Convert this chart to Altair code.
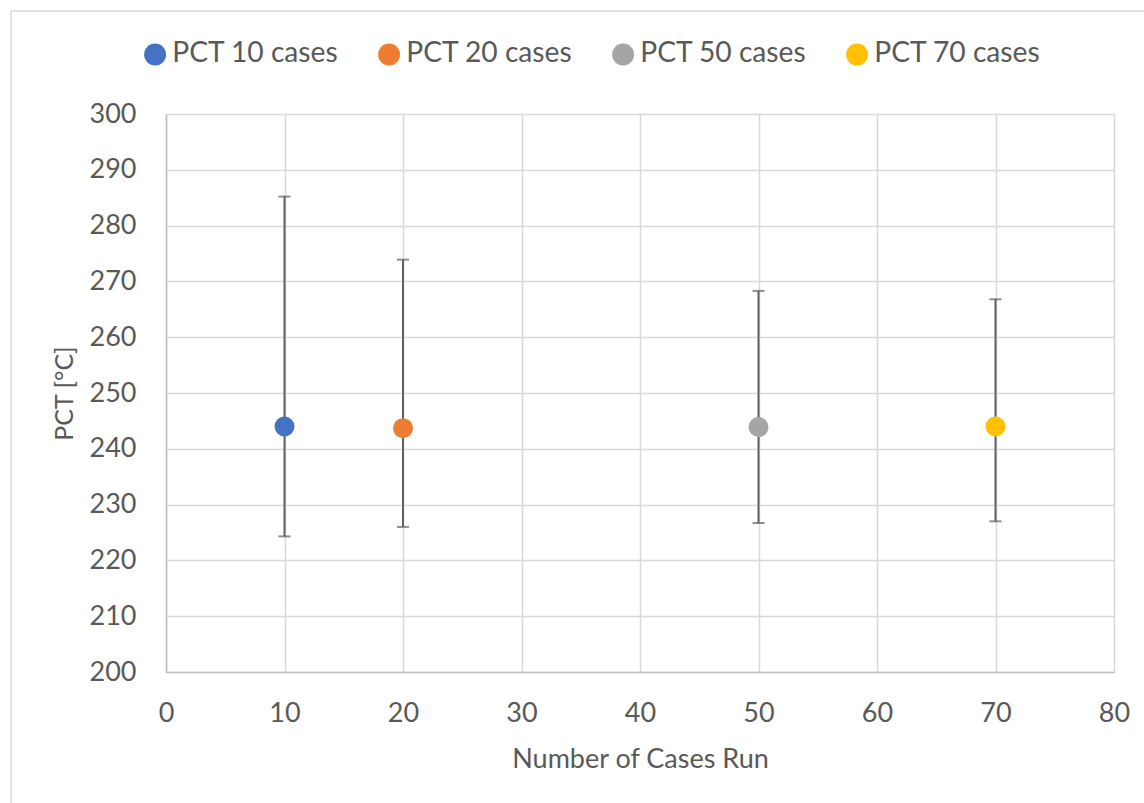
import altair as alt
import pandas as pd

series = ["PCT 10 cases", "PCT 20 cases", "PCT 50 cases", "PCT 70 cases"]
cases = [10, 20, 50, 70]
pct_mean = [244.0, 243.7, 243.9, 244.0]
pct_high = [285.2, 273.9, 268.3, 266.8]
pct_low = [224.3, 226.0, 226.7, 227.0]
colors = ["#4472C4", "#ED7D31", "#A5A5A5", "#FFC000"]

x_ticks = [0, 10, 20, 30, 40, 50, 60, 70, 80]
y_ticks = [200, 210, 220, 230, 240, 250, 260, 270, 280, 290, 300]

df = pd.DataFrame({"series": series, "cases": cases, "mean": pct_mean,
                   "high": pct_high, "low": pct_low})

FONT = "Lato"
TXT = "#595959"

x_enc = alt.X("cases:Q", scale=alt.Scale(domain=[0, 80], nice=False),
              axis=alt.Axis(values=x_ticks, title="Number of Cases Run"))
y_enc_kw = dict(scale=alt.Scale(domain=[200, 300], nice=False, zero=False))

base = alt.Chart(df)

rules = base.mark_rule(color="#606060", strokeWidth=2).encode(
    x=x_enc,
    y=alt.Y("low:Q", axis=alt.Axis(values=y_ticks, title="PCT [°C]"), **y_enc_kw),
    y2="high:Q",
)
caps_hi = base.mark_tick(color="#606060", thickness=2, size=12, orient="horizontal").encode(
    x="cases:Q", y=alt.Y("high:Q", **y_enc_kw))
caps_lo = base.mark_tick(color="#606060", thickness=2, size=12, orient="horizontal").encode(
    x="cases:Q", y=alt.Y("low:Q", **y_enc_kw))

points = base.mark_point(filled=True, shape="circle", size=400, opacity=1).encode(
    x="cases:Q",
    y=alt.Y("mean:Q", **y_enc_kw),
    color=alt.Color("series:N",
                    scale=alt.Scale(domain=series, range=colors),
                    legend=alt.Legend(
                        title=None, orient="none", direction="horizontal",
                        legendX=-25, legendY=-74,
                        symbolType="circle", symbolSize=480, symbolStrokeWidth=0,
                        labelFont=FONT, labelFontSize=28.2, labelColor=TXT,
                        labelLimit=400,
                        labelOffset=3, columnPadding=36, symbolOpacity=1)),
)

border = alt.Chart(pd.DataFrame({"a": [0]})).mark_rect(
    fill=None, stroke="#D9D9D9", strokeWidth=1.5, clip=False
).encode(x=alt.value(-155), x2=alt.value(1100), y=alt.value(-103), y2=alt.value(800))

chart = alt.layer(border, rules, caps_hi, caps_lo, points).properties(
    width=948, height=558,
    padding={"left": 166, "top": 114, "right": 30, "bottom": 131},
    autosize=alt.AutoSizeParams(type="none"),
    background="white",
).configure_view(stroke=None).configure_axis(
    grid=True, gridColor="#D9D9D9", gridWidth=1.5,
    domainColor="#BFBFBF", domainWidth=1.5,
    ticks=False, labelFlush=False,
    labelFont=FONT, labelFontSize=27, labelColor=TXT,
    titleFont=FONT, titleColor=TXT, titleFontWeight="normal",
).configure_axisX(labelPadding=28, titlePadding=20, titleFontSize=27).configure_axisY(
    labelPadding=30, titlePadding=12, titleFontSize=25)

chart.save("out.html", embed_options={"renderer": "svg", "actions": False})
